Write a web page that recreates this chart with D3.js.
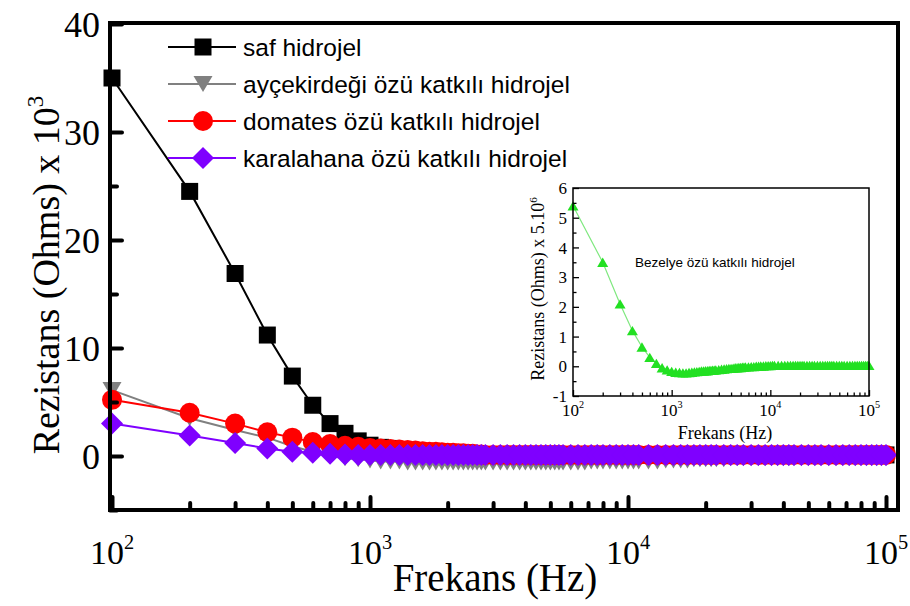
<!DOCTYPE html>
<html>
<head>
<meta charset="utf-8">
<script src="https://cdn.jsdelivr.net/npm/d3@7"></script>
<style>
  html, body { margin: 0; padding: 0; background: #fff; }
  svg { display: block; }
</style>
</head>
<body>
<svg id="chart" width="910" height="606"></svg>
<script>
// Measurement frequencies (Hz)
const freq = [
  100, 200, 300, 400, 500, 600, 700, 800, 900, 1000,
  1100, 1200, 1300, 1400, 1500, 1600, 1700, 1800, 1900, 2000,
  2100, 2200, 2300, 2400, 2500, 2600, 2700, 2800,
  3000, 3200, 3400, 3600, 3800, 4000, 4200, 4400, 4600, 4800, 5000, 5200, 5400, 5600,
  6000, 6400, 6800, 7200, 7600, 8000,
  8500, 9000, 9500, 10000, 10500, 11000,
  12000, 13000, 14000, 15000, 16000, 17000, 18000, 19000, 20000, 21000, 22000,
  23500, 25000, 26500, 28000,
  30000, 32000, 34000, 36000, 38000, 40000, 42000, 44000,
  47000, 50000, 53000, 56000,
  60000, 64000, 68000, 72000, 76000, 80000, 84000, 88000, 92000, 96000, 100000
];

// Resistance, x 10^3 Ohms
const safHidrojel = [
  35.0, 24.5, 16.9, 11.2, 7.4, 4.7, 3.0, 2.1, 1.4, 1.0,
  0.8, 0.7, 0.6, 0.5, 0.5, 0.4, 0.4, 0.4, 0.3, 0.3,
  0.3, 0.3, 0.2, 0.2, 0.2, 0.2, 0.1, 0.1,
  0.1, 0.1, 0.1, 0.1, 0.1, 0.1, 0.1, 0.1, 0.1, 0.1, 0.1, 0.1, 0.1, 0.1,
  0.1, 0.1, 0.1, 0.1, 0.1, 0.1,
  0.1, 0.1, 0.1, 0.1, 0.1, 0.1,
  0.1, 0.1, 0.1, 0.1, 0.1, 0.1, 0.1, 0.1, 0.1, 0.1, 0.1,
  0.1, 0.1, 0.1, 0.1,
  0.1, 0.1, 0.1, 0.1, 0.1, 0.1, 0.1, 0.1,
  0.1, 0.1, 0.1, 0.1,
  0.1, 0.1, 0.1, 0.1, 0.1, 0.1, 0.1, 0.1, 0.1, 0.1, 0.1
];
const aycekirdegi = [
  6.1, 3.5, 2.4, 1.7, 0.9, 0.4, 0.0, -0.2, -0.3, -0.4,
  -0.5, -0.5, -0.5, -0.6, -0.6, -0.6, -0.6, -0.6, -0.6, -0.6,
  -0.6, -0.6, -0.6, -0.6, -0.6, -0.6, -0.6, -0.6,
  -0.6, -0.6, -0.6, -0.6, -0.6, -0.6, -0.6, -0.6, -0.6, -0.6, -0.6, -0.6, -0.6, -0.6,
  -0.6, -0.6, -0.6, -0.5, -0.5, -0.5,
  -0.5, -0.5, -0.5, -0.5, -0.5, -0.5,
  -0.5, -0.5, -0.4, -0.4, -0.4, -0.4, -0.3, -0.3, -0.3, -0.3, -0.3,
  -0.3, -0.2, -0.2, -0.2,
  -0.2, -0.2, -0.2, -0.2, -0.2, -0.2, -0.2, -0.2,
  -0.2, -0.2, -0.2, -0.2,
  -0.2, -0.2, -0.2, -0.2, -0.2, -0.2, -0.2, -0.2, -0.2, -0.2, -0.2
];
const domates = [
  5.2, 4.0, 3.0, 2.2, 1.7, 1.3, 1.1, 0.95, 0.85, 0.75,
  0.7, 0.65, 0.6, 0.55, 0.5, 0.45, 0.4, 0.4, 0.35, 0.3,
  0.3, 0.25, 0.25, 0.2, 0.2, 0.15, 0.15, 0.1,
  0.1, 0.1, 0.1, 0.1, 0.1, 0.1, 0.1, 0.1, 0.1, 0.1, 0.1, 0.1, 0.1, 0.1,
  0.1, 0.1, 0.1, 0.1, 0.1, 0.1,
  0.1, 0.1, 0.1, 0.1, 0.1, 0.1,
  0.1, 0.1, 0.1, 0.1, 0.1, 0.1, 0.1, 0.1, 0.1, 0.1, 0.1,
  0.1, 0.1, 0.1, 0.1,
  0.1, 0.1, 0.1, 0.1, 0.1, 0.1, 0.1, 0.1,
  0.1, 0.1, 0.1, 0.1,
  0.1, 0.1, 0.1, 0.1, 0.1, 0.1, 0.1, 0.1, 0.1, 0.1, 0.1
];
const karalahana = [
  3.0, 1.9, 1.2, 0.7, 0.4, 0.3, 0.2, 0.15, 0.1, 0.1,
  0.1, 0.1, 0.1, 0.1, 0.1, 0.1, 0.1, 0.1, 0.1, 0.1,
  0.1, 0.1, 0.1, 0.1, 0.1, 0.1, 0.1, 0.1,
  0.1, 0.1, 0.1, 0.1, 0.1, 0.1, 0.1, 0.1, 0.1, 0.1, 0.1, 0.1, 0.1, 0.1,
  0.1, 0.1, 0.1, 0.1, 0.1, 0.1,
  0.1, 0.1, 0.1, 0.1, 0.1, 0.1,
  0.1, 0.1, 0.1, 0.1, 0.1, 0.1, 0.1, 0.1, 0.1, 0.1, 0.1,
  0.1, 0.1, 0.1, 0.1,
  0.1, 0.1, 0.1, 0.1, 0.1, 0.1, 0.1, 0.1,
  0.1, 0.1, 0.1, 0.1,
  0.1, 0.1, 0.1, 0.1, 0.1, 0.1, 0.1, 0.1, 0.1, 0.1, 0.1
];
// Resistance, x 5.10^6 Ohms
const bezelye = [
  5.4, 3.5, 2.1, 1.2, 0.65, 0.3, 0.1, -0.05, -0.12, -0.17,
  -0.2, -0.21, -0.22, -0.22, -0.21, -0.2, -0.19, -0.18, -0.17, -0.16,
  -0.16, -0.15, -0.15, -0.14, -0.14, -0.13, -0.13, -0.12,
  -0.11, -0.1, -0.09, -0.08, -0.07, -0.07, -0.06, -0.05, -0.05, -0.04, -0.04, -0.03, -0.03, -0.02,
  -0.02, -0.01, -0.01, 0.0, 0.0, 0.01,
  0.01, 0.02, 0.02, 0.02, 0.03, 0.03,
  0.03, 0.03, 0.03, 0.03, 0.03, 0.03, 0.03, 0.03, 0.03, 0.03, 0.03,
  0.03, 0.03, 0.03, 0.03,
  0.03, 0.03, 0.03, 0.03, 0.03, 0.03, 0.03, 0.03,
  0.03, 0.03, 0.03, 0.03,
  0.03, 0.03, 0.03, 0.03, 0.03, 0.03, 0.03, 0.03, 0.03, 0.03, 0.03
];

const mainYTicks = [0, 10, 20, 30, 40];
const mainYMinor = [-5, 5, 15, 25, 35];
const decades = [100, 1000, 10000, 100000];
const insetYTicks = [-1, 0, 1, 2, 3, 4, 5, 6];

const SERIF = "'Liberation Serif', 'Times New Roman', serif";
const SANS = "'Liberation Sans', Arial, sans-serif";

const svg = d3.select('#chart');

// marker shapes
function shapePath(kind, s) {
  switch (kind) {
    case 'square': return `M${-s},${-s}H${s}V${s}H${-s}Z`;
    case 'circle': return `M${-s},0A${s},${s} 0 1,0 ${s},0A${s},${s} 0 1,0 ${-s},0Z`;
    case 'diamond': return `M0,${-s}L${s},0L0,${s}L${-s},0Z`;
    case 'down': return `M${-s},${-s * 0.85}L${s},${-s * 0.85}L0,${s * 0.85}Z`;
    case 'up': return `M${-s},${s * 0.85}L${s},${s * 0.85}L0,${-s * 0.85}Z`;
  }
}

// ---------- main plot ----------
const L = 110, R = 898, T = 23, B = 510;
const x = d3.scaleLog().domain([100, 100000]).range([112, 886]);
const y = d3.scaleLinear().domain([-5, 40]).range([B, 24]);

const series = [
  { name: 'saf hidrojel', values: safHidrojel, color: '#000000', shape: 'square', size: 8.5 },
  { name: 'ayçekirdeği özü katkılı hidrojel', values: aycekirdegi, color: '#808080', shape: 'down', size: 9.5 },
  { name: 'domates özü katkılı hidrojel', values: domates, color: '#ff0000', shape: 'circle', size: 10 },
  { name: 'karalahana özü katkılı hidrojel', values: karalahana, color: '#7f00ff', shape: 'diamond', size: 11 }
];

const plot = svg.append('g');
const line = d3.line().x(d => x(d.f)).y(d => y(d.v));

series.forEach(s => {
  const pts = freq.map((f, i) => ({ f, v: s.values[i] }));
  const g = plot.append('g');
  g.append('path').datum(pts).attr('d', line)
    .attr('fill', 'none').attr('stroke', s.color).attr('stroke-width', 2);
  g.selectAll('path.m').data(pts).join('path').attr('class', 'm')
    .attr('transform', d => `translate(${x(d.f)},${y(d.v)})`)
    .attr('d', shapePath(s.shape, s.size))
    .attr('fill', s.color);
});

// bottom ticks (inward)
const gx = svg.append('g').attr('transform', `translate(0,${B})`)
  .call(d3.axisBottom(x).tickValues(x.ticks()).tickSizeInner(-7).tickSizeOuter(0).tickFormat(''));
gx.select('.domain').remove();
gx.selectAll('.tick line')
  .attr('stroke', '#000').attr('stroke-width', 4).attr('stroke-linecap', 'round')
  .attr('y2', d => Number.isInteger(Math.round(Math.log10(d) * 1000) / 1000) ? -13 : -7);

// left ticks (inward)
const gy = svg.append('g').attr('transform', `translate(${L},0)`)
  .call(d3.axisLeft(y).tickValues(mainYTicks.concat(mainYMinor)).tickSizeInner(-12).tickSizeOuter(0).tickFormat(''));
gy.select('.domain').remove();
gy.selectAll('.tick line')
  .attr('stroke', '#000').attr('stroke-width', 4).attr('stroke-linecap', 'round')
  .attr('x2', d => mainYTicks.includes(d) ? 12 : 7);

// frame
svg.append('rect').attr('x', L).attr('y', T).attr('width', R - L).attr('height', B - T)
  .attr('fill', 'none').attr('stroke', '#000').attr('stroke-width', 4);

// y tick labels
svg.append('g').selectAll('text').data(mainYTicks).join('text')
  .attr('x', 100).attr('y', d => y(d)).attr('dy', '0.36em')
  .attr('text-anchor', 'end')
  .style('font-family', SERIF).style('font-size', '36px')
  .text(d => d);

// x tick labels 10^n
function powerLabel(g, base, exp, fs) {
  g.append('tspan').text(base);
  g.append('tspan').attr('dy', -fs * 0.45).style('font-size', (fs * 0.6) + 'px').text(exp);
}
decades.forEach(d => {
  const t = svg.append('text')
    .attr('x', x(d)).attr('y', 564).attr('text-anchor', 'middle')
    .style('font-family', SERIF).style('font-size', '34px');
  powerLabel(t, '10', Math.round(Math.log10(d)), 34);
});

// axis titles
svg.append('text').attr('x', 495).attr('y', 591).attr('text-anchor', 'middle')
  .style('font-family', SERIF).style('font-size', '39px').text('Frekans (Hz)');
{
  const t = svg.append('text').attr('transform', 'translate(59,275) rotate(-90)')
    .attr('text-anchor', 'middle')
    .style('font-family', SERIF).style('font-size', '38px');
  t.append('tspan').text('Rezistans (Ohms) x 10');
  t.append('tspan').attr('dy', -16).style('font-size', '23px').text('3');
}

// legend
const lg = svg.append('g');
series.forEach((s, i) => {
  const cy = 47 + i * 37;
  lg.append('line').attr('x1', 168).attr('x2', 236).attr('y1', cy).attr('y2', cy)
    .attr('stroke', s.color).attr('stroke-width', 2);
  lg.append('path').attr('transform', `translate(203,${cy})`)
    .attr('d', shapePath(s.shape, s.size)).attr('fill', s.color);
  lg.append('text').attr('x', 243).attr('y', cy).attr('dy', '0.36em')
    .style('font-family', SANS).style('font-size', '24.5px').text(s.name);
});

// ---------- inset ----------
const iL = 573, iR = 869, iT = 188, iB = 396;
const xi = d3.scaleLog().domain([100, 100000]).range([iL, iR]);
const yi = d3.scaleLinear().domain([-1, 6]).range([iB, iT]);

const inset = svg.append('g');
inset.append('rect').attr('x', 522).attr('y', 172).attr('width', 366).attr('height', 272).attr('fill', '#fff');

const bezPts = freq.map((f, i) => ({ f, v: bezelye[i] }));
inset.append('path').datum(bezPts)
  .attr('d', d3.line().x(d => xi(d.f)).y(d => yi(d.v)))
  .attr('fill', 'none').attr('stroke', '#7fe87f').attr('stroke-width', 1.2);
inset.selectAll('path.m').data(bezPts).join('path').attr('class', 'm')
  .attr('transform', d => `translate(${xi(d.f)},${yi(d.v)})`)
  .attr('d', shapePath('up', 5.5)).attr('fill', '#22e022');

const gxi = inset.append('g').attr('transform', `translate(0,${iB})`)
  .call(d3.axisBottom(xi).tickValues(xi.ticks()).tickSizeInner(-3).tickSizeOuter(0).tickFormat(''));
gxi.select('.domain').remove();
gxi.selectAll('.tick line').attr('stroke', '#000').attr('stroke-width', 1.3)
  .attr('y2', d => Number.isInteger(Math.round(Math.log10(d) * 1000) / 1000) ? -6 : -3.5);

const insetYMinor = insetYTicks.slice(0, -1).map(v => v + 0.5);
const gyi = inset.append('g').attr('transform', `translate(${iL},0)`)
  .call(d3.axisLeft(yi).tickValues(insetYTicks.concat(insetYMinor)).tickSizeInner(-5).tickSizeOuter(0).tickFormat(''));
gyi.select('.domain').remove();
gyi.selectAll('.tick line').attr('stroke', '#000').attr('stroke-width', 1.3)
  .attr('x2', d => insetYTicks.includes(d) ? 6 : 3.5);

inset.append('rect').attr('x', iL).attr('y', iT).attr('width', iR - iL).attr('height', iB - iT)
  .attr('fill', 'none').attr('stroke', '#000').attr('stroke-width', 1.5);

inset.append('g').selectAll('text').data(insetYTicks).join('text')
  .attr('x', 567).attr('y', d => yi(d)).attr('dy', '0.36em').attr('text-anchor', 'end')
  .style('font-family', SERIF).style('font-size', '17px').text(d => d);

decades.forEach(d => {
  const t = inset.append('text').attr('x', xi(d)).attr('y', 416).attr('text-anchor', 'middle')
    .style('font-family', SERIF).style('font-size', '17px');
  powerLabel(t, '10', Math.round(Math.log10(d)), 17);
});

inset.append('text').attr('x', 725).attr('y', 439).attr('text-anchor', 'middle')
  .style('font-family', SERIF).style('font-size', '18px').text('Frekans (Hz)');
{
  const t = inset.append('text').attr('transform', 'translate(544,289) rotate(-90)')
    .attr('text-anchor', 'middle')
    .style('font-family', SERIF).style('font-size', '18px');
  t.append('tspan').text('Rezistans (Ohms) x 5.10');
  t.append('tspan').attr('dy', -7).style('font-size', '11px').text('6');
}
inset.append('text').attr('x', 635).attr('y', 267)
  .style('font-family', SANS).style('font-size', '13.5px').text('Bezelye özü katkılı hidrojel');
</script>
</body>
</html>
